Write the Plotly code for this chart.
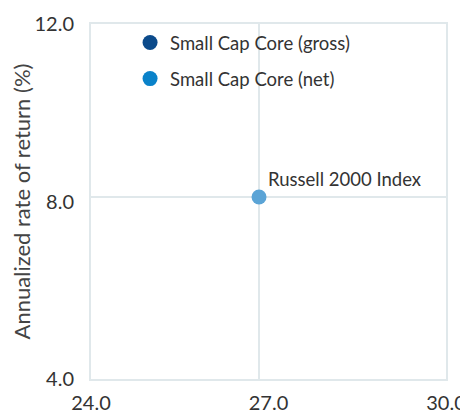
import plotly.graph_objects as go

# Data
series_names = ["Small Cap Core (gross)", "Small Cap Core (net)"]
series_colors = ["#0b4a8b", "#0a82c9"]
gross_risk = [None]
gross_return = [None]
net_risk = [None]
net_return = [None]

bench_name = "Russell 2000 Index"
bench_risk = [26.84]
bench_return = [8.10]

x_ticks = [24.0, 27.0, 30.0]
y_ticks = [4.0, 8.0, 12.0]

FONT = "Lato, 'Open Sans', sans-serif"
GRID = "#e0e8eb"

fig = go.Figure()

for name, color, xs, ys, g in [
    (series_names[0], series_colors[0], gross_risk, gross_return, "g1"),
    (series_names[1], series_colors[1], net_risk, net_return, "g2"),
]:
    fig.add_trace(go.Scatter(
        x=xs, y=ys, mode="markers", name=name, legendgroup=g,
        marker=dict(color=color, size=15),
    ))

fig.add_trace(go.Scatter(
    x=bench_risk, y=bench_return, mode="markers", name=bench_name,
    showlegend=False, marker=dict(color="#5ba4d6", size=15),
    cliponaxis=False,
))

fig.add_annotation(
    x=bench_risk[0], y=bench_return[0], text=bench_name, showarrow=False,
    xanchor="left", yanchor="middle", xshift=7, yshift=18,
    font=dict(family=FONT, size=18.5, color="#333333"),
)

# crosshair through benchmark
fig.add_shape(type="line", x0=bench_risk[0], x1=bench_risk[0], y0=y_ticks[0], y1=y_ticks[-1],
              xref="x", yref="y", line=dict(color=GRID, width=2), layer="below")
fig.add_shape(type="line", x0=x_ticks[0], x1=x_ticks[-1], y0=bench_return[0], y1=bench_return[0],
              xref="x", yref="y", line=dict(color=GRID, width=2), layer="below")

fig.update_layout(
    width=468, height=410,
    margin=dict(l=83, r=30, t=16, b=39),
    paper_bgcolor="white", plot_bgcolor="white",
    font=dict(family=FONT, color="#333333"),
    showlegend=True,
    legend=dict(
        x=0.11, y=1.0, xanchor="left", yanchor="top",
        bgcolor="rgba(0,0,0,0)", font=dict(family=FONT, size=18.5, color="#333333"),
        traceorder="grouped", tracegroupgap=9, itemsizing="trace",
    ),
    xaxis=dict(
        range=[x_ticks[0], x_ticks[-1]], tickvals=x_ticks, tickformat=".1f",
        showgrid=False, zeroline=False, showline=True, mirror=True,
        linecolor=GRID, linewidth=2, ticks="", ticklen=0, automargin=False,
        ticklabelstandoff=5,
        tickfont=dict(family=FONT, size=20, color="#333333"),
    ),
    yaxis=dict(
        range=[y_ticks[0], y_ticks[-1]], tickvals=y_ticks, tickformat=".1f",
        showgrid=False, zeroline=False, showline=True, mirror=True,
        linecolor=GRID, linewidth=2, ticks="", automargin=False,
        ticklabelstandoff=11,
        tickfont=dict(family=FONT, size=20, color="#333333"),
        title=dict(text="Annualized rate of return (%)", standoff=0,
                   font=dict(family=FONT, size=22, color="#444444")),
    ),
)

fig.write_html("out.html")
